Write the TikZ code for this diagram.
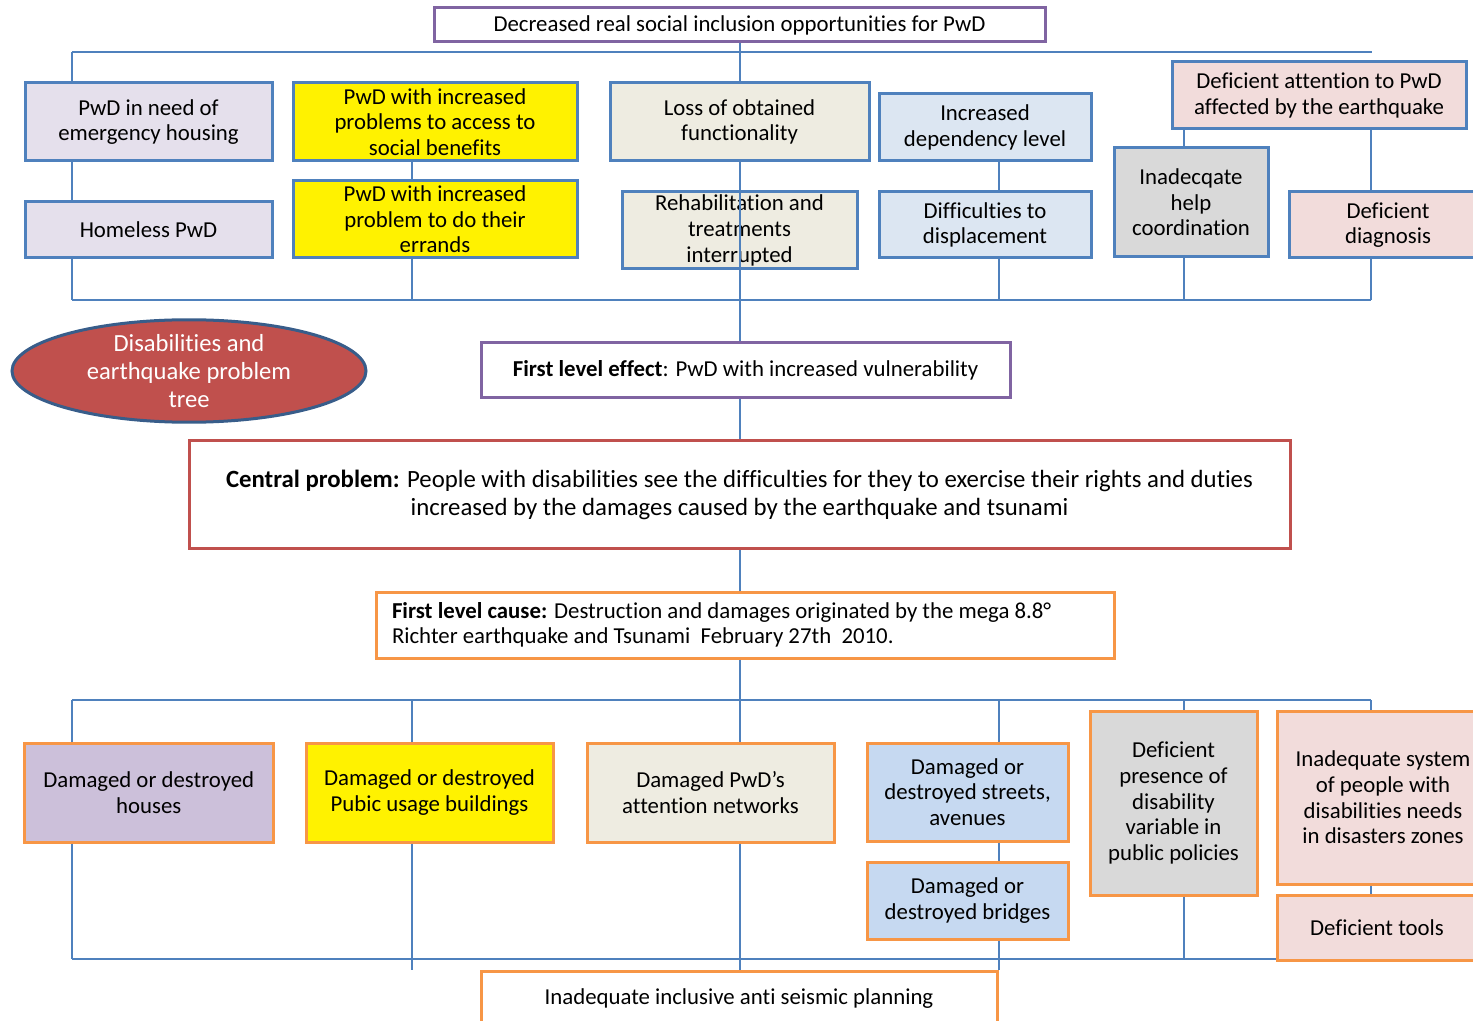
\documentclass[tikz,border=0pt]{standalone}
\usepackage{fontspec}
\setmainfont{Carlito}[Ligatures=NoCommon]
\usetikzlibrary{shapes.geometric}
\definecolor{lineblue}{HTML}{4F81BD}
\definecolor{boxviolet}{HTML}{8064A2}
\definecolor{boxred}{HTML}{C0504D}
\definecolor{boxorange}{HTML}{F79646}
\definecolor{ellblue}{HTML}{385D8A}
\definecolor{lilac}{HTML}{E5E0EC}
\definecolor{lavender}{HTML}{CCC0DA}
\definecolor{beige}{HTML}{EEECE1}
\definecolor{paleblue}{HTML}{DCE6F2}
\definecolor{skyblue}{HTML}{C6D9F1}
\definecolor{greybox}{HTML}{D9D9D9}
\definecolor{pinkbox}{HTML}{F2DCDB}
\begin{document}
\begin{tikzpicture}[x=0.5pt,y=-0.5pt,
    every node/.style={font=\fontsize{11.4}{12.8}\selectfont, align=center, inner sep=0pt},
    wh/.style 2 args={minimum width=#1*0.5pt, minimum height=#2*0.5pt},
    effect/.style={draw=lineblue, line width=1.5pt},
    cause/.style={draw=boxorange, line width=1.5pt},
    link/.style={lineblue, line width=1pt}]
    \clip (0,0) rectangle (1473,1021);
    %effects
    \node[draw=boxviolet, line width=1.5pt, wh={611}{34}] (goal) at (739.5,25) {Decreased real social inclusion opportunities for PwD};
    \node[effect, fill=lilac, wh={247}{78}] (need) at (148.5,122) {PwD in need of\\emergency housing};
    \node[effect, fill=lilac, wh={247}{56}] (homeless) at (148.5,230) {Homeless PwD};
    \node[effect, fill=yellow, wh={284}{78}] (benefits) at (435,122) {PwD with increased\\problems to access to\\social benefits};
    \node[effect, fill=yellow, wh={284}{77}] (errands) at (435,219.5) {PwD with increased\\problem to do their\\errands};
    \node[effect, fill=beige, wh={259}{78}] (loss) at (739.5,122) {Loss of obtained\\functionality};
    \node[effect, fill=beige, wh={235}{77}] (rehab) at (739.5,230.5) {Rehabilitation and\\treatments\\interrupted};
    \node[effect, fill=paleblue, wh={212}{67}] (depend) at (985,127.5) {Increased\\dependency level};
    \node[effect, fill=paleblue, wh={212}{66}] (displace) at (985,225) {Difficulties to\\displacement};
    \node[effect, fill=greybox, wh={154}{109}] (coord) at (1191,202.5) {Inadecqate\\help\\coordination};
    \node[effect, fill=pinkbox, wh={294}{67}] (attention) at (1319,95.5) {Deficient attention to PwD\\affected by the earthquake};
    \node[effect, fill=pinkbox, wh={198}{66}] (diagnosis) at (1388,225) {Deficient\\diagnosis};
    %title and centre
    \node[ellipse, draw=ellblue, line width=1.5pt, fill=boxred, text=white, wh={354}{97}, font=\fontsize{12.3}{13.8}\selectfont] (title) at (189,371) {Disabilities and\\earthquake problem\\tree};
    \node[draw=boxviolet, line width=1.5pt, wh={529}{55}] (effect1) at (745.5,370.5) {\textbf{First level effect}: PwD with increased vulnerability};
    \node[draw=boxred, line width=1.5pt, wh={1101}{108}, font=\fontsize{12.4}{14}\selectfont] (central) at (739.5,495) {\textbf{Central problem:} People with disabilities see the difficulties for they to exercise their rights and duties\\increased by the damages caused by the earthquake and tsunami};
    \node[cause, wh={738}{66}, align=flush left, inner xsep=8pt, text width=353pt] (cause1) at (745,625) {\textbf{First level cause:} Destruction and damages originated by the mega 8.8°\\Richter earthquake and Tsunami~ February 27th~ 2010.};
    %causes
    \node[cause, fill=lavender, wh={248.5}{99}] (houses) at (148.75,792.5) {Damaged or destroyed\\houses};
    \node[cause, fill=yellow, wh={247}{99}] (public) at (429.5,792.5) {Damaged or destroyed\\Pubic usage buildings};
    \node[cause, fill=beige, wh={247}{99}] (network) at (710.5,792.5) {Damaged PwD’s\\attention networks};
    \node[cause, fill=skyblue, wh={201}{98}] (streets) at (967.5,792) {Damaged or\\destroyed streets,\\avenues};
    \node[cause, fill=skyblue, wh={201}{77}] (bridges) at (967.5,900.5) {Damaged or\\destroyed bridges};
    \node[cause, fill=greybox, wh={167}{184}] (policy) at (1173.5,803) {Deficient\\presence of\\disability\\variable in\\public policies};
    \node[cause, fill=pinkbox, wh={212}{173}] (system) at (1383,797.5) {Inadequate system\\of people with\\disabilities needs\\in disasters zones};
    \node[cause, fill=pinkbox, wh={200}{65}] (tools) at (1377,927.5) {Deficient tools};
    \node[cause, fill=white, wh={516}{55}] (planning) at (739,998.5) {Inadequate inclusive anti seismic planning};
    %buses
    \coordinate (tbl) at (72,52);
    \coordinate (tbr) at (1372,52);
    \coordinate (bbl) at (72,300);
    \coordinate (bbr) at (1371,300);
    \coordinate (lbl) at (72,700);
    \coordinate (lbr) at (1371,700);
    \coordinate (fbl) at (72,959);
    \coordinate (drop) at (412,970);
    \draw[link] (tbl) -- (tbr);
    \draw[link] (bbl) -- (bbr);
    \draw[link] (lbl) -- (lbr);
    \draw[link] (fbl) -- (fbl -| tools.west);
    %upper columns
    \draw[link] (tbl) -- (tbl |- need.north);
    \draw[link] (tbl |- need.south) -- (tbl |- homeless.north);
    \draw[link] (tbl |- homeless.south) -- (bbl);
    \draw[link] (drop |- benefits.south) -- (drop |- errands.north);
    \draw[link] (drop |- errands.south) -- (drop |- bbl);
    \draw[link] (goal.south) -- (loss.north);
    \draw[link] (loss.south) -- (loss.south |- effect1.north);
    \draw[link] (planning.north east |- depend.south) -- (planning.north east |- displace.north);
    \draw[link] (planning.north east |- displace.south) -- (planning.north east |- bbl);
    \draw[link] (1184,300 |- attention.south) -- (1184,300 |- coord.north);
    \draw[link] (1184,300 |- coord.south) -- (1184,300);
    \draw[link] (bbr |- attention.south) -- (bbr |- diagnosis.north);
    \draw[link] (bbr |- diagnosis.south) -- (bbr);
    %trunk
    \draw[link] (loss.south |- effect1.south) -- (loss.south |- central.north);
    \draw[link] (central.south) -- (central.south |- cause1.north);
    \draw[link] (central.south |- cause1.south) -- (central.south |- network.north);
    \draw[link] (central.south |- network.south) -- (central.south |- planning.north);
    %lower columns
    \draw[link] (lbl) -- (lbl |- houses.north);
    \draw[link] (lbl |- houses.south) -- (fbl);
    \draw[link] (drop |- lbl) -- (drop |- public.north);
    \draw[link] (drop |- public.south) -- (drop);
    \draw[link] (planning.north east |- lbl) -- (planning.north east |- streets.north);
    \draw[link] (planning.north east |- streets.south) -- (planning.north east |- bridges.north);
    \draw[link] (planning.north east |- bridges.south) -- (planning.north east);
    \draw[link] (1184,700) -- (1184,700 |- policy.north);
    \draw[link] (1184,700 |- policy.south) -- (1184,700 |- fbl);
    \draw[link] (lbr) -- (lbr |- system.north);
    \draw[link] (lbr |- system.south) -- (lbr |- tools.north);
\end{tikzpicture}
\end{document}
